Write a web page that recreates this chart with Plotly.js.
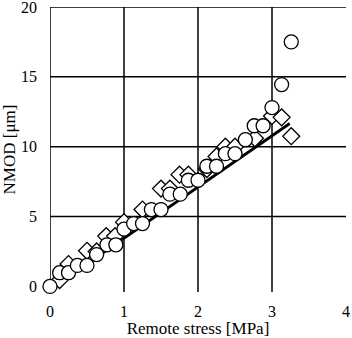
<!DOCTYPE html>
<html>
<head>
<meta charset="utf-8">
<script src="https://cdn.plot.ly/plotly-3.0.1.min.js"></script>
<style>html,body{margin:0;padding:0;background:#fff;}#chart{width:352px;height:338px;}</style>
</head>
<body>
<div id="chart"></div>
<script>
// Remote stress [MPa] and NMOD [um]
var circleX = [0, 0.13, 0.25, 0.37, 0.5, 0.63, 0.77, 0.89, 1.0, 1.13, 1.25, 1.37, 1.5, 1.62, 1.76, 1.87, 2.0, 2.12, 2.25, 2.37, 2.5, 2.64, 2.76, 2.88, 3.0, 3.13, 3.26];
var circleY = [0, 0.98, 0.98, 1.5, 1.5, 2.28, 2.98, 2.98, 4.1, 4.5, 4.5, 5.5, 5.5, 6.6, 6.6, 7.6, 7.6, 8.6, 8.6, 9.5, 9.5, 10.5, 11.5, 11.5, 12.8, 14.45, 17.5];
var diamondX = [0.13, 0.25, 0.5, 0.63, 0.76, 0.88, 1.0, 1.25, 1.5, 1.62, 1.75, 1.87, 2.12, 2.25, 2.37, 2.5, 2.77, 3.0, 3.13, 3.26];
var diamondY = [0.45, 1.6, 2.55, 2.5, 3.6, 3.6, 4.6, 5.5, 7.0, 7.0, 8.0, 8.0, 8.4, 9.3, 10.0, 10.0, 10.6, 12.2, 12.1, 10.75];
var lineX = [0.1, 3.24];
var lineY = [0.15, 11.66];
var xTicks = [0, 1, 2, 3, 4];
var yTicks = [0, 5, 10, 15, 20];
var xGrid = [0, 1, 2, 3];
var yGrid = [5, 10, 15, 20];

var shapes = [];
xGrid.forEach(function (v) {
  shapes.push({type: 'line', xref: 'x', yref: 'y', x0: v, x1: v, y0: -0.4, y1: 20, line: {color: '#000', width: 1.5}, layer: 'below'});
});
yGrid.forEach(function (v) {
  shapes.push({type: 'line', xref: 'x', yref: 'y', x0: 0, x1: 4, y0: v, y1: v, line: {color: '#000', width: 1.5}, layer: 'below'});
});

var traces = [
  {x: lineX, y: lineY, mode: 'lines', line: {color: '#000', width: 2.8}, showlegend: false, hoverinfo: 'skip'},
  {x: diamondX, y: diamondY, mode: 'markers', marker: {symbol: 'diamond', size: 13, color: '#fff', line: {color: '#000', width: 1.3}}, showlegend: false, cliponaxis: false},
  {x: circleX, y: circleY, mode: 'markers', marker: {symbol: 'circle', size: 14, color: '#fff', line: {color: '#000', width: 1.3}}, showlegend: false, cliponaxis: false}
];

var font = {family: 'Liberation Serif, Times New Roman, serif', size: 16, color: '#000'};
var titleFont = {family: 'Liberation Serif, Times New Roman, serif', size: 17, color: '#000'};
var layout = {
  width: 352, height: 338,
  margin: {l: 50, r: 6, t: 7, b: 46, pad: 0},
  paper_bgcolor: '#fff', plot_bgcolor: '#fff',
  font: font,
  showlegend: false,
  shapes: shapes,
  xaxis: {
    range: [0, 4], tickvals: xTicks, ticktext: xTicks.map(String),
    showgrid: false, zeroline: false, showline: false, ticks: '',
    ticklabelstandoff: 8, tickfont: font, ticklabeloverflow: 'allow',
    title: {text: 'Remote stress [MPa]', font: titleFont, standoff: 8}
  },
  yaxis: {
    range: [-0.4, 20], tickvals: yTicks, ticktext: yTicks.map(String),
    showgrid: false, zeroline: false, showline: false, ticks: '',
    ticklabelstandoff: 12, tickfont: font, ticklabeloverflow: 'allow',
    title: {text: 'NMOD [μm]', font: titleFont, standoff: 4}
  }
};

Plotly.newPlot('chart', traces, layout, {staticPlot: true, displayModeBar: false});
</script>
</body>
</html>
